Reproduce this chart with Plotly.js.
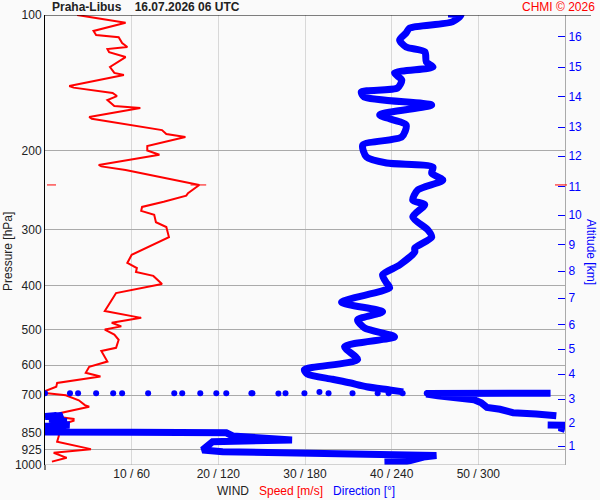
<!DOCTYPE html>
<html><head><meta charset="utf-8">
<script src="https://cdn.plot.ly/plotly-3.0.1.min.js"></script>
<style>body{margin:0;background:#fafafa}</style>
</head><body><div id="chart" style="width:600px;height:500px"></div>
<script>
// Wind speed profile (m/s) vs pressure (hPa)
var speedP = [100,104,108.5,110.8,112,115.4,117.8,119,121,124,130.5,134.5,136,143.8,145,149,151.4,154.5,159.3,161,168.5,170,180.2,183.8,186.6,195.5,200,204.5,215.4,217,221,238.6,248.8,252,260,267,272.5,278,288.7,296,311.6,331.6,341,355.6,365,372.3,380,396,414.8,430,454.6,471,483,492,500,513,527,549,558,589,605,624,636,657,670,684,692,700,718,736,742,766,780,790,797,820,861,888,922,939,964,983];
var speed  = [3.7,9.3,5.6,5.9,8.5,8.9,9.5,7.2,7.4,9.3,7.5,8.0,9.1,2.8,3.3,7.8,8.3,7.2,8.0,11.0,5.1,5.4,13.5,14.0,16.2,11.8,11.8,13.2,6.2,6.5,9.3,17.8,16.5,16.3,13.7,11.2,11.1,12.6,12.8,14.0,14.3,11.2,10.0,9.5,10.6,10.5,12.5,13.5,8.2,7.7,6.9,11.1,7.7,8.8,6.9,8.0,8.5,8.2,6.5,7.2,5.1,4.7,6.4,1.4,1.3,0.1,0,2.4,3.9,4.6,5.1,1.8,1.2,3.3,3.3,1.3,1.6,1.4,5.3,1.0,2.5,0.8];

// Wind direction (deg) vs pressure (hPa)
var dirUpperP = [99.5,100,103.6,106.9,109.6,113.6,117.8,120.8,127.2,130.5,134.5,139.5,145.3,148.2,152.1,158.5,166.8,175.6,186.6,194.5,206.9,213.3,217.7,224.5,232.8,244.9,258,264,281,300.3,311.6,329.8,336,359.4,378,394,404,434.7,456.6,476,496,519,546,583,614,628,645,656.6,670,681,688];
var dirUpper  = [279,288,282,252.5,250,245.5,250,263,264,268.6,242,247,244,219,221,267.7,231.7,250,247,220,222.6,236.5,268.6,267.7,275.4,258,254.6,262.9,254.6,265,267.7,256,256,245.5,233.7,236.5,238.6,205.3,233.7,216.4,221.3,242,207.4,216.4,179.6,181.7,199,210.9,222.6,238.6,248];
var dirDotsP = [693,693,693,693,693,693,693,693,693,693,693,693,693,693,694,693,693,688,693,693,693,693,693,693];
var dirDots  = [0,17.3,22.9,35.4,47.2,53.4,71.4,89.5,95,107.5,118.6,125.5,142.9,143.6,161.6,166.5,179.6,190,196.3,212.9,230.3,237.9,247.6,264.3];
var dirRightP = [692.5,692.5,693,694,697,702,708,716,727,745,752,765,770,777];
var dirRight  = [350,300,275,266,266,272,286,297,302,306,315,324,340,354];
var dirWrapP = [815,816,826,834];
var dirWrap  = [348,360,356,360];
var dirLowP = [776,780,776,785,790,800,805,815,820,825,835,840,845,846,846,848,862,880,888,918,926,934,942,953,960,983,985];
var dirLow  = [8,0,12,10,3,15,5,17,0,14,2,10,0,60,107,125.5,130,171,116,110,109,123,206,271,262,250,235];

// Axis labels
var speedTicks = [10,20,30,40,50];
var windTickText = ['10 / 60','20 / 120','30 / 180','40 / 240','50 / 300'];
var pressTicks = [100,200,300,400,500,600,700,850,925,1000];
var altTickP = [907.4,806.6,713.5,627.9,552.4,488.5,425.5,370.7,324.4,278.3,241.1,205.8,177.4,152.1,130.5,111.9];
var altTickText = ['1','2','3','4','5','6','7','8','9','10','11','12','13','14','15','16'];
var maxWindP = 238.6, maxWind = 17.8;

var BLUE = '#0000ff', RED = '#ff0000';
var font = 'Liberation Sans, Arial, sans-serif';
var thick = {color: BLUE, width: 7};
var thickSmooth = {color: BLUE, width: 7, shape: 'spline', smoothing: 0.7};

var traces = [
  {x: dirUpper, y: dirUpperP, xaxis: 'x2', yaxis: 'y', mode: 'lines', line: thickSmooth, hoverinfo: 'none'},
  {x: dirRight, y: dirRightP, xaxis: 'x2', yaxis: 'y', mode: 'lines', line: thick, hoverinfo: 'none'},
  {x: dirWrap, y: dirWrapP, xaxis: 'x2', yaxis: 'y', mode: 'lines', line: thick, hoverinfo: 'none'},
  {x: dirLow, y: dirLowP, xaxis: 'x2', yaxis: 'y', mode: 'lines', line: thick, hoverinfo: 'none'},
  {x: dirDots, y: dirDotsP, xaxis: 'x2', yaxis: 'y', mode: 'markers', marker: {color: BLUE, size: 6}, hoverinfo: 'none'},
  {x: speed, y: speedP, xaxis: 'x', yaxis: 'y', mode: 'lines', line: {color: RED, width: 2}, hoverinfo: 'none'},
  {x: [], y: [], xaxis: 'x', yaxis: 'y2', mode: 'lines', hoverinfo: 'none'}
];

function py(Y){ return (465 - Y) / 450; }
function px(X){ return (X - 45) / 520; }

var layout = {
  width: 600, height: 500,
  paper_bgcolor: '#fafafa', plot_bgcolor: '#fafafa',
  margin: {l: 45, r: 35, t: 15, b: 35},
  showlegend: false,
  font: {family: font, size: 12, color: '#222'},
  xaxis: {range: [0, 60], tickvals: speedTicks, ticktext: windTickText, showgrid: true,
          gridcolor: '#d8d8d8', gridwidth: 1, zeroline: false, ticks: '', showline: false,
          tickfont: {size: 12, color: '#222'}, fixedrange: true},
  xaxis2: {overlaying: 'x', range: [0, 360], visible: false, fixedrange: true},
  yaxis: {type: 'log', range: [3, 2], tickvals: pressTicks, ticktext: pressTicks.map(String),
          showgrid: true, gridcolor: '#aaaaaa', gridwidth: 1, zeroline: false, ticks: '',
          showline: true, linecolor: '#000', linewidth: 1, tickfont: {size: 12, color: '#222'}},
  yaxis2: {overlaying: 'y', side: 'right', type: 'log', range: [3, 2], tickvals: altTickP,
           ticktext: altTickText, ticks: 'inside', ticklen: 7, tickwidth: 1, tickcolor: BLUE,
           tickfont: {size: 12, color: BLUE}, showgrid: false, zeroline: false,
           showline: true, linecolor: '#aaaaaa', linewidth: 1},
  shapes: [
    {type: 'line', xref: 'paper', yref: 'y', x0: 0, x1: px(591), y0: 100, y1: 100, line: {color: '#000', width: 1}},
    {type: 'line', xref: 'paper', yref: 'y', x0: 0, x1: 1, y0: 1000, y1: 1000, line: {color: '#aaaaaa', width: 1}},
    {type: 'line', xref: 'paper', yref: 'paper', x0: 0, x1: 0, y0: 0, y1: py(470), line: {color: '#000', width: 1}},
    {type: 'line', xref: 'paper', yref: 'y', x0: px(47), x1: px(56), y0: maxWindP, y1: maxWindP, line: {color: RED, width: 1}},
    {type: 'line', xref: 'paper', yref: 'y', x0: px(555), x1: px(567), y0: maxWindP, y1: maxWindP, line: {color: RED, width: 1}},
    {type: 'line', xref: 'x', yref: 'y', x0: maxWind - 1.0, x1: maxWind + 0.8, y0: maxWindP, y1: maxWindP, line: {color: RED, width: 1}}
  ],
  annotations: [
    {text: '<b>Praha-Libus    16.07.2026 06 UTC</b>', xref: 'paper', yref: 'paper', x: px(50), y: py(7),
     xanchor: 'left', yanchor: 'middle', showarrow: false, font: {size: 12, color: '#222'}},
    {text: 'CHMI © 2026', xref: 'paper', yref: 'paper', x: px(597), y: py(7),
     xanchor: 'right', yanchor: 'middle', showarrow: false, font: {size: 12, color: RED}},
    {text: 'MXWS', xref: 'x', yref: 'y', x: maxWind + 1.1, y: maxWindP, xanchor: 'left', yanchor: 'middle',
     showarrow: false, font: {size: 11, color: '#ff3333'}},
    {text: 'Pressure [hPa]', xref: 'paper', yref: 'paper', x: px(8), y: py(252), textangle: -90,
     xanchor: 'center', yanchor: 'middle', showarrow: false, font: {size: 12, color: '#222'}},
    {text: 'Altitude [km]', xref: 'paper', yref: 'paper', x: px(591), y: py(252), textangle: 90,
     xanchor: 'center', yanchor: 'middle', showarrow: false, font: {size: 12, color: BLUE}},
    {text: 'WIND   <span style="color:#ff0000">Speed [m/s]</span>   <span style="color:#0000ff">Direction [°]</span>',
     xref: 'paper', yref: 'paper', x: px(306), y: py(491), xanchor: 'center', yanchor: 'middle',
     showarrow: false, font: {size: 12, color: '#222'}}
  ]
};

Plotly.newPlot('chart', traces, layout, {staticPlot: true, displayModeBar: false});
</script></body></html>
